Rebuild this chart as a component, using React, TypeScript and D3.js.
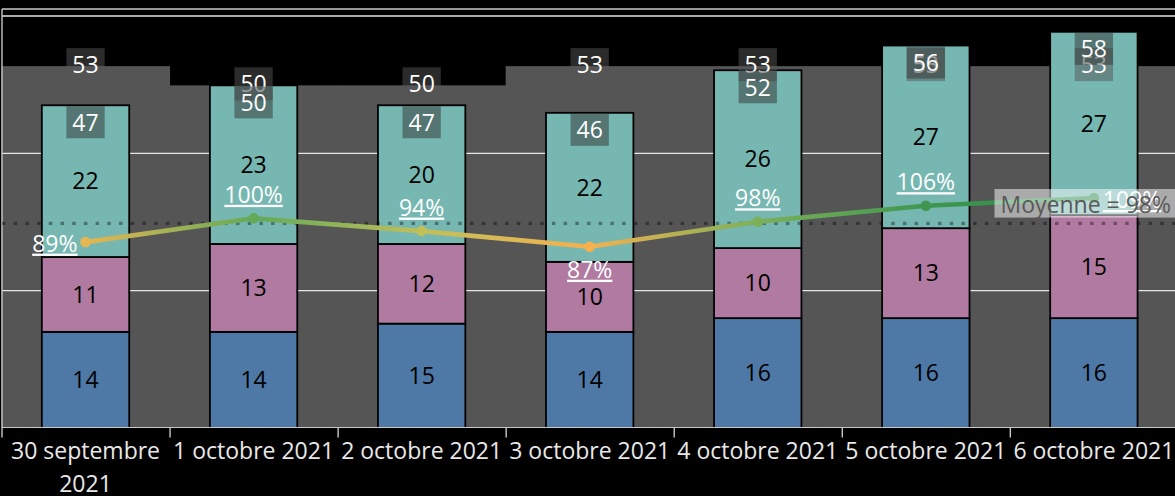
import React from 'react';
import * as d3 from 'd3';

// ---- Data ----
const categories = [
  '30 septembre 2021',
  '1 octobre 2021',
  '2 octobre 2021',
  '3 octobre 2021',
  '4 octobre 2021',
  '5 octobre 2021',
  '6 octobre 2021',
];
const blueValues = [14.0, 14.0, 15.2, 14.0, 16.0, 16.0, 16.0];
const pinkValues = [10.9, 12.8, 11.6, 10.2, 10.2, 13.1, 15.0];
const tealValues = [22.1, 23.1, 20.2, 21.7, 25.9, 26.6, 26.7];
const targetValues = [52.7, 49.9, 49.9, 52.7, 52.7, 52.7, 52.7];
const pctValues = [0.892, 1.0, 0.942, 0.871, 0.984, 1.057, 1.092];
const yGridTicks = [20, 40, 60];
const averageLabelPrefix = 'Moyenne = ';

// label placement for the percentage line (style, not data)
const pctLabelPlacement = ['left', 'above', 'above', 'below', 'above', 'above', 'right'];

const W = 1175;
const H = 496;
const FONT = '"Open Sans", sans-serif';
const FS = 23;

const seriesKeys = ['blue', 'pink', 'teal'];
const seriesColors: Record<string, string> = {
  blue: '#4e79a7',
  pink: '#b07aa1',
  teal: '#76b7b2',
};

let _ctx: CanvasRenderingContext2D | null = null;
function measure(text: string, size = FS): number {
  if (!_ctx) {
    const c = document.createElement('canvas');
    _ctx = c.getContext('2d');
  }
  if (!_ctx) return text.length * size * 0.55;
  _ctx.font = `${size}px "Open Sans"`;
  return _ctx.measureText(text).width;
}

function wrapLabel(label: string, maxW: number): string[] {
  if (measure(label) <= maxW) return [label];
  const words = label.split(' ');
  const lines: string[] = [];
  let cur = '';
  for (const w of words) {
    const t = cur ? cur + ' ' + w : w;
    if (measure(t) > maxW && cur) {
      lines.push(cur);
      cur = w;
    } else cur = t;
  }
  if (cur) lines.push(cur);
  return lines;
}

export default function App() {
  const x = d3.scaleBand<string>().domain(categories).range([1.5, 1177.9]).padding(0);
  const y = d3.scaleLinear().domain([0, 60]).range([428, 16]);
  const yPct = d3.scaleLinear().domain([0, 1]).range([438.8, 218.3]);
  const bw = x.bandwidth();
  const barW = bw * 0.52;
  const cx = (c: string) => (x(c) as number) + bw / 2;

  const rows = categories.map((c, i) => ({
    cat: c,
    blue: blueValues[i],
    pink: pinkValues[i],
    teal: tealValues[i],
  }));
  const stacked = d3.stack<any>().keys(seriesKeys)(rows);
  const totals = categories.map((_, i) => blueValues[i] + pinkValues[i] + tealValues[i]);

  const colorScale = d3
    .scaleLinear<string>()
    .domain([0.87, 0.94, 1.0, 1.09])
    .range(['#f5b14e', '#c4c05a', '#62aa58', '#2a8a4a'])
    .interpolate(d3.interpolateRgb)
    .clamp(true);

  const pts = categories.map((c, i) => ({ x: cx(c), y: yPct(pctValues[i]), v: pctValues[i] }));
  const avg = d3.mean(pctValues) as number;
  const avgY = yPct(avg);
  const lineGen = d3.line<{ x: number; y: number }>().x((d) => d.x).y((d) => d.y);

  const avgText = averageLabelPrefix + Math.round(avg * 100) + '%';
  const avgTextW = measure(avgText);
  const avgTextEnd = 1171;
  const avgBoxBottom = avgY - 5.8;
  const avgBoxH = 28.6;

  const plotBottom = y(0) - 0.5;

  return (
    <div style={{ position: 'fixed', left: 0, top: 0, width: W, height: H, background: '#000' }}>
      <svg width={W} height={H} style={{ display: 'block', fontFamily: FONT }}>
        <rect x={0} y={0} width={W} height={H} fill="#000" />
        <defs>
          {pts.slice(0, -1).map((p, i) => (
            <linearGradient
              key={i}
              id={`seg-${i}`}
              gradientUnits="userSpaceOnUse"
              x1={p.x}
              y1={p.y}
              x2={pts[i + 1].x}
              y2={pts[i + 1].y}
            >
              <stop offset="0%" stopColor={colorScale(p.v)} />
              <stop offset="100%" stopColor={colorScale(pts[i + 1].v)} />
            </linearGradient>
          ))}
        </defs>

        {/* grey target columns */}
        {categories.map((c, i) => (
          <rect
            key={'g' + i}
            x={x(c) as number}
            y={y(targetValues[i])}
            width={bw + 0.5}
            height={y(0) - y(targetValues[i])}
            fill="#555555"
          />
        ))}

        {/* gridlines */}
        {yGridTicks.map((t) => (
          <line key={'gl' + t} x1={2} x2={W} y1={y(t)} y2={y(t)} stroke="#e6e6e6" strokeWidth={1.4} />
        ))}
        {/* frame */}
        <line x1={2} x2={W} y1={9} y2={9} stroke="#c8c8c8" strokeWidth={1.4} />
        <line x1={2} x2={2} y1={9} y2={plotBottom} stroke="#c8c8c8" strokeWidth={1.4} />

        {/* stacked bars */}
        {stacked.map((s) =>
          s.map((d, i) => (
            <rect
              key={s.key + i}
              x={cx(categories[i]) - barW / 2}
              y={y(d[1])}
              width={barW}
              height={y(d[0]) - y(d[1])}
              fill={seriesColors[s.key]}
              stroke="#000"
              strokeWidth={1.8}
            />
          ))
        )}

        {/* segment labels */}
        {stacked.map((s) =>
          s.map((d, i) => (
            <text
              key={'sl' + s.key + i}
              x={cx(categories[i])}
              y={(y(d[0]) + y(d[1])) / 2}
              dy="0.36em"
              textAnchor="middle"
              fontSize={FS}
              fill="#000"
            >
              {Math.round(d[1] - d[0])}
            </text>
          ))
        )}

        {/* axis */}
        <line x1={2} x2={W} y1={plotBottom} y2={plotBottom} stroke="#c8c8c8" strokeWidth={1.2} />
        {categories.map((c, i) => (
          <line
            key={'tk' + i}
            x1={(x(c) as number) + 0.5}
            x2={(x(c) as number) + 0.5}
            y1={plotBottom}
            y2={plotBottom + 10}
            stroke="#c8c8c8"
            strokeWidth={1.4}
          />
        ))}
        {categories.map((c, i) => {
          const lines = wrapLabel(c, bw - 2);
          return (
            <text key={'xl' + i} x={cx(c)} y={459} textAnchor="middle" fontSize={FS} fill="#e8e8e8">
              {lines.map((l, j) => (
                <tspan key={j} x={cx(c)} dy={j === 0 ? 0 : 32.5}>
                  {l}
                </tspan>
              ))}
            </text>
          );
        })}

        {/* target (grey) labels */}
        {categories.map((c, i) => {
          const cy = y(targetValues[i]) - 1.5;
          const t = String(Math.round(targetValues[i]));
          const w = measure(t) + 12;
          return (
            <g key={'tl' + i}>
              <rect x={cx(c) - w / 2} y={cy - 16.5} width={w} height={33} fill="#555" fillOpacity={0.5} />
              <text x={cx(c)} y={cy} dy="0.36em" textAnchor="middle" fontSize={FS} fill="#fff">
                {t}
              </text>
            </g>
          );
        })}

        {/* total labels */}
        {categories.map((c, i) => {
          const cy = y(totals[i]) + 17;
          const t = String(Math.round(totals[i]));
          const w = measure(t) + 12;
          return (
            <g key={'to' + i}>
              <rect x={cx(c) - w / 2} y={cy - 16} width={w} height={32} fill="#333" fillOpacity={0.5} />
              <text x={cx(c)} y={cy} dy="0.36em" textAnchor="middle" fontSize={FS} fill="#fff">
                {t}
              </text>
            </g>
          );
        })}

        {/* average dotted line */}
        <line
          x1={2}
          x2={W}
          y1={avgY}
          y2={avgY}
          stroke="#000"
          strokeOpacity={0.38}
          strokeWidth={3.4}
          strokeDasharray="3.5 8.2"
        />

        {/* percentage line */}
        {pts.slice(0, -1).map((p, i) => (
          <path
            key={'ln' + i}
            d={lineGen([p, pts[i + 1]]) as string}
            stroke={`url(#seg-${i})`}
            strokeWidth={4.6}
            fill="none"
            strokeLinecap="round"
          />
        ))}
        {pts.map((p, i) => (
          <circle key={'pt' + i} cx={p.x} cy={p.y} r={5.3} fill={colorScale(p.v)} />
        ))}
        {pts.map((p, i) => {
          const pl = pctLabelPlacement[i];
          let tx = p.x;
          let ty = p.y - 15.5;
          let anchor: 'start' | 'middle' | 'end' = 'middle';
          if (pl === 'left') {
            tx = p.x - 8;
            ty = p.y + 9.5;
            anchor = 'end';
          } else if (pl === 'right') {
            tx = p.x + 9;
            ty = p.y + 10;
            anchor = 'start';
          } else if (pl === 'below') {
            ty = p.y + 31;
          }
          return (
            <text
              key={'pl' + i}
              x={tx}
              y={ty}
              textAnchor={anchor}
              fontSize={FS}
              fill="#fff"
              style={{ textDecoration: 'underline' }}
            >
              {Math.round(p.v * 100) + '%'}
            </text>
          );
        })}

        {/* average label */}
        <rect
          x={avgTextEnd - avgTextW - 6}
          y={avgBoxBottom - avgBoxH}
          width={W - (avgTextEnd - avgTextW - 6) + 2}
          height={avgBoxH}
          fill="#fff"
          fillOpacity={0.5}
        />
        <text x={avgTextEnd} y={avgBoxBottom - 4.6} textAnchor="end" fontSize={FS} fill="#595959">
          {avgText}
        </text>
      </svg>
    </div>
  );
}
